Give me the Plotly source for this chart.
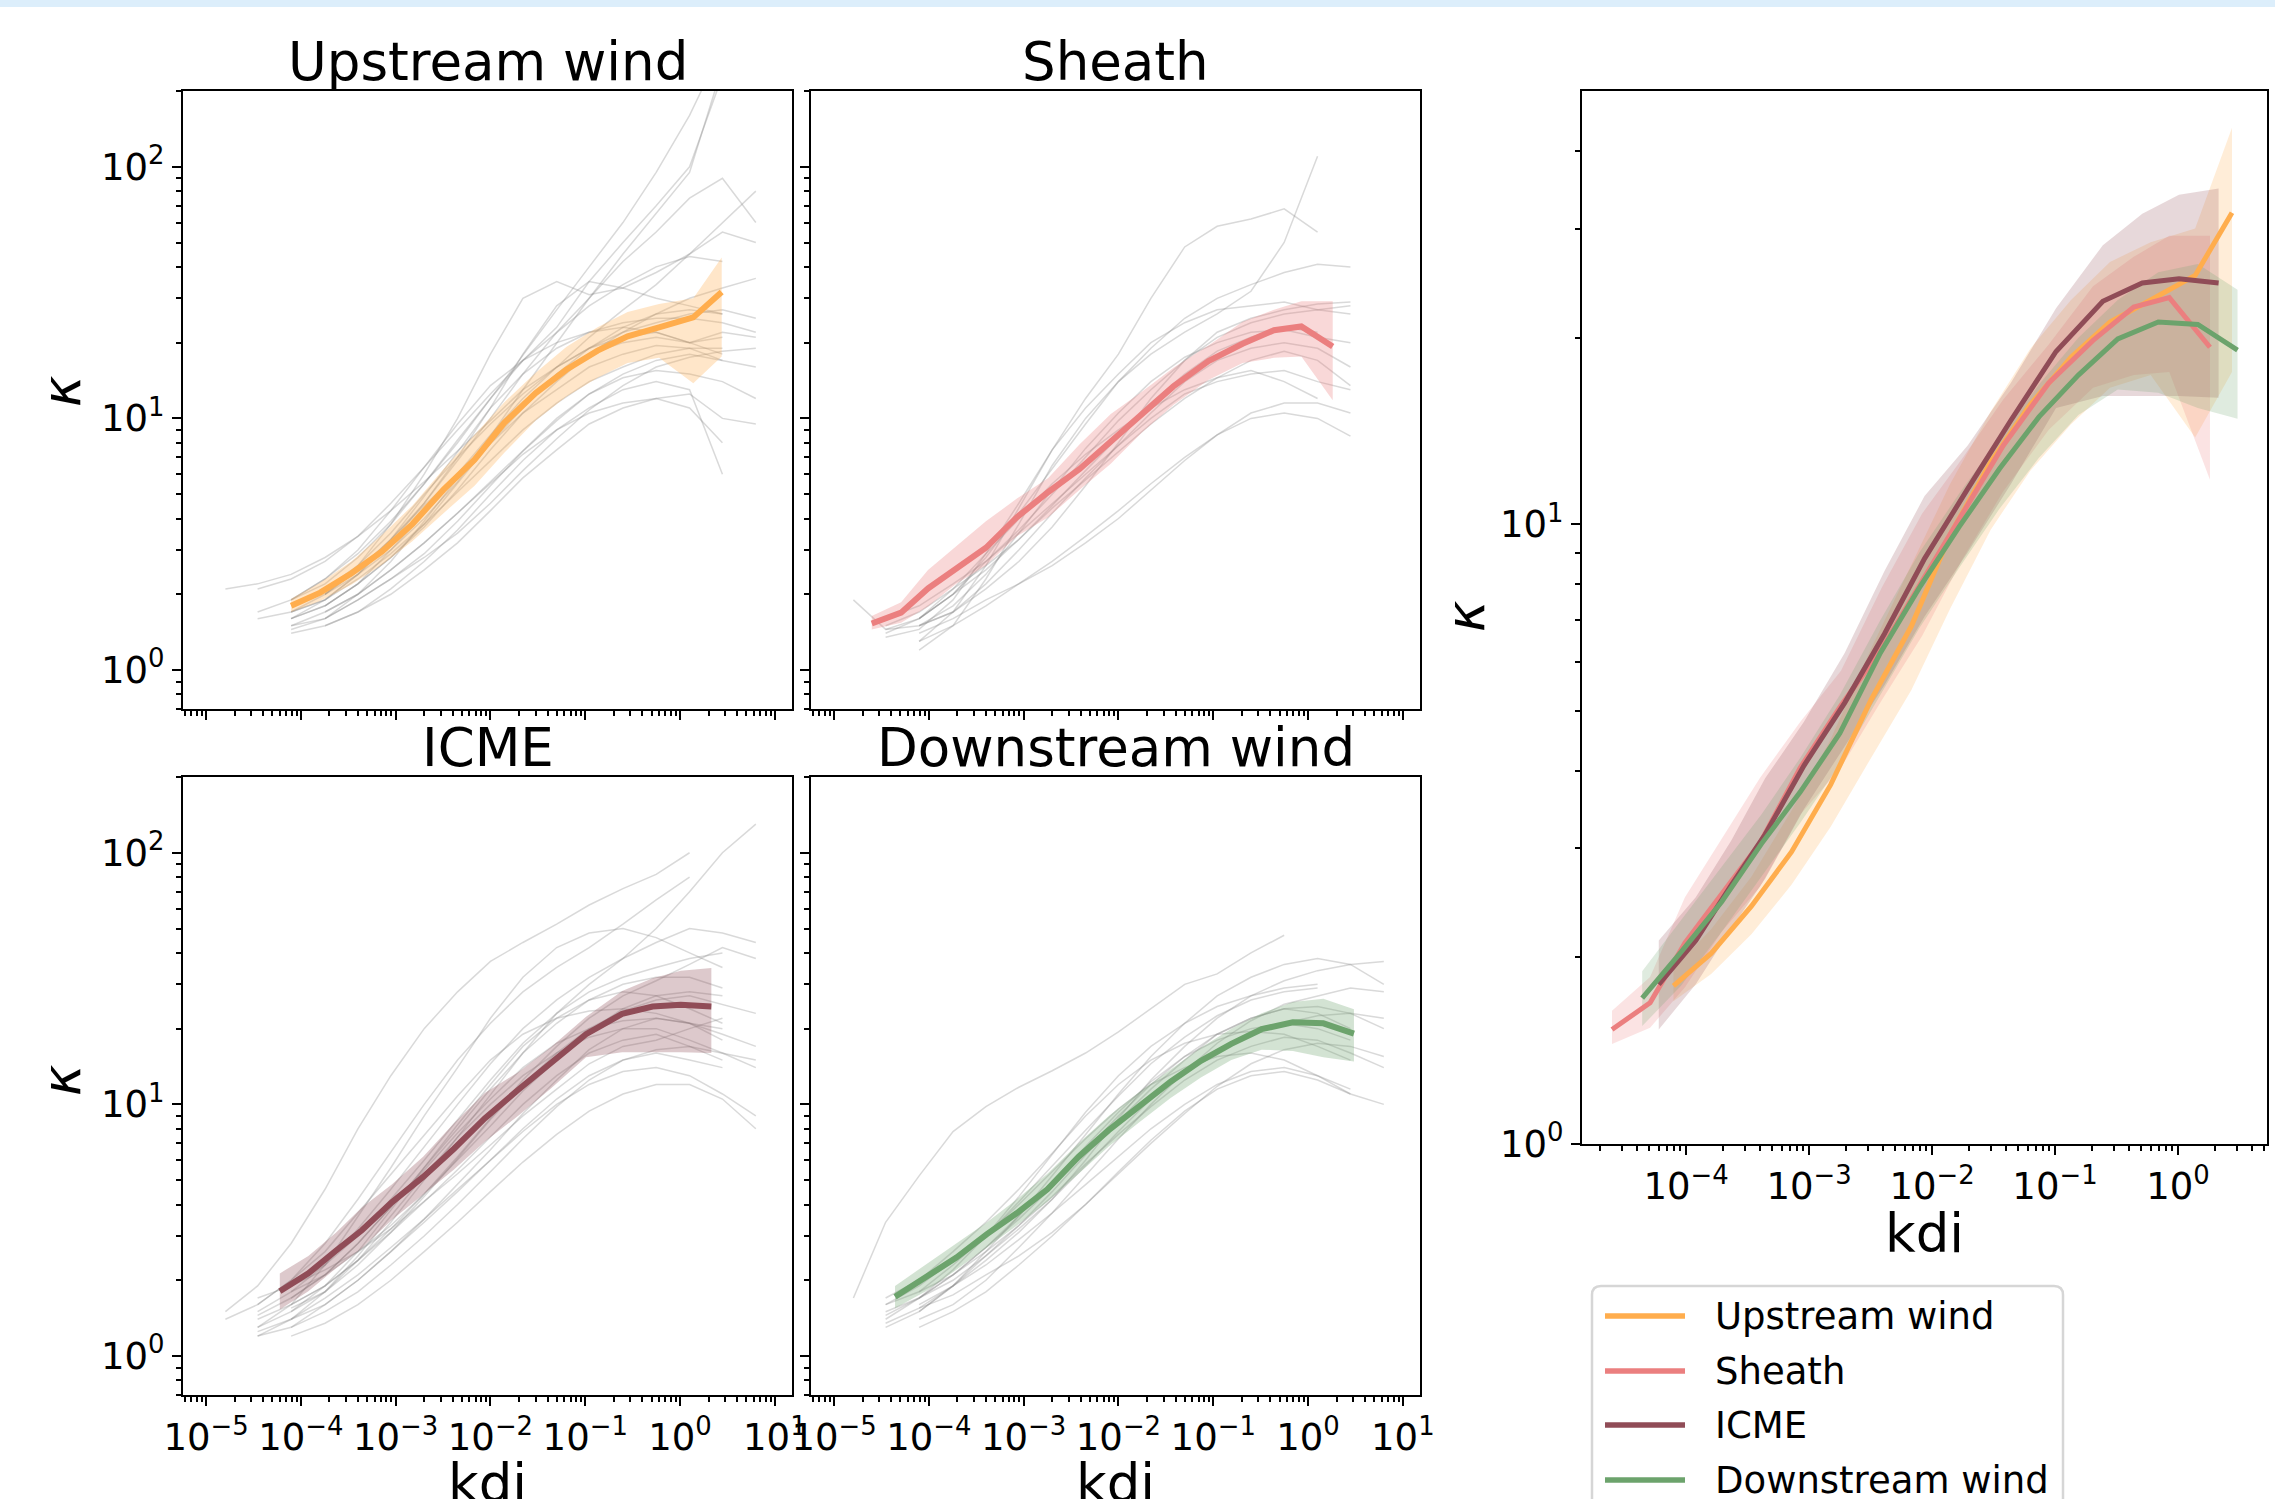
import math
import plotly.graph_objects as go

W, H = 2275, 1499

REGIONS = ["Upstream wind", "Sheath", "ICME", "Downstream wind"]
LINE_COLORS = [(255, 173, 77), (235, 127, 127), (144, 76, 87), (108, 163, 108)]

# ---- median curves and spread bands ----
UPSTREAM_KDI = [7.9e-5, 1.6e-4, 3.4e-4, 7.2e-4, 1.5e-3, 3.2e-3, 6.8e-3, 1.4e-2, 3.0e-2, 6.3e-2, 0.135, 0.28, 0.60, 1.38, 2.75]
UPSTREAM_KAPPA = [1.80, 2.03, 2.42, 2.96, 3.80, 5.21, 6.85, 9.6, 12.6, 15.6, 18.6, 21.2, 23.0, 25.2, 31.8]
UPSTREAM_LOW = [1.70, 1.88, 2.18, 2.62, 3.25, 4.2, 5.4, 7.3, 9.8, 12.2, 14.5, 16.6, 17.4, 13.8, 17.6]
UPSTREAM_HIGH = [1.92, 2.22, 2.70, 3.45, 4.5, 6.3, 8.6, 11.6, 15.2, 19.2, 23.0, 26.5, 28.5, 30.0, 43.6]

SHEATH_KDI = [2.5e-5, 5.1e-5, 9.8e-5, 1.95e-4, 4.0e-4, 8.5e-4, 1.82e-3, 3.9e-3, 8.3e-3, 1.78e-2, 3.8e-2, 8.9e-2, 0.204, 0.437, 0.85, 1.82]
SHEATH_KAPPA = [1.53, 1.69, 2.11, 2.53, 3.06, 4.05, 5.1, 6.3, 8.1, 10.4, 13.4, 16.9, 19.8, 22.4, 23.2, 19.3]
SHEATH_LOW = [1.45, 1.54, 1.79, 2.2, 2.6, 3.4, 4.05, 5.2, 6.6, 8.8, 11.3, 14.2, 16.6, 17.4, 17.6, 11.8]
SHEATH_HIGH = [1.64, 1.86, 2.5, 3.1, 3.9, 4.8, 5.8, 7.9, 10.4, 12.8, 15.9, 19.5, 24.2, 27.0, 29.2, 29.2]

ICME_KDI = [6.0e-5, 1.2e-4, 2.34e-4, 4.4e-4, 9.1e-4, 1.95e-3, 4.1e-3, 8.7e-3, 1.95e-2, 4.37e-2, 0.102, 0.245, 0.513, 1.02, 2.14]
ICME_KAPPA = [1.81, 2.13, 2.62, 3.16, 4.08, 5.15, 6.65, 8.8, 11.4, 14.7, 19.0, 22.9, 24.5, 24.9, 24.5]
ICME_LOW = [1.53, 1.81, 2.23, 2.68, 3.47, 4.38, 5.5, 7.1, 9.0, 11.6, 15.4, 16.1, 16.1, 16.1, 16.0]
ICME_HIGH = [2.13, 2.50, 3.09, 3.89, 4.80, 6.2, 8.4, 11.1, 13.4, 16.9, 22.3, 28.2, 31.7, 34.0, 34.8]

DOWNSTREAM_KDI = [4.4e-5, 9.1e-5, 1.95e-4, 4.1e-4, 8.5e-4, 1.78e-3, 3.8e-3, 7.9e-3, 1.66e-2, 3.55e-2, 7.41e-2, 0.155, 0.324, 0.692, 1.45, 3.05]
DOWNSTREAM_KAPPA = [1.72, 2.04, 2.46, 3.05, 3.7, 4.6, 6.2, 7.9, 9.9, 12.3, 14.9, 17.4, 19.9, 21.2, 21.0, 19.1]
DOWNSTREAM_LOW = [1.55, 1.8, 2.2, 2.7, 3.3, 4.1, 5.3, 6.8, 8.5, 10.6, 12.8, 15.0, 16.5, 16.3, 15.4, 14.8]
DOWNSTREAM_HIGH = [1.9, 2.3, 2.8, 3.4, 4.2, 5.3, 7.0, 9.0, 11.2, 13.8, 16.8, 20.0, 23.0, 25.5, 26.3, 23.9]

# ---- individual events (thin grey lines), on a common kdi grid ----
EVENT_KDI = [1.6e-5, 3.5e-5, 7.9e-5, 1.8e-4, 4.0e-4, 8.9e-4, 2.0e-3, 4.5e-3, 1.0e-2, 2.2e-2, 5.0e-2, 0.11, 0.25, 0.56, 1.26, 2.8, 6.3]

# (index of first grid point, kappa values)
UPSTREAM_EVENTS = [
    (1, [2.1, 2.3, 2.7, 3.4, 4.6, 6.4, 9.0, 12.5, 17, 22, 28, 34, 40, 44, 42]),
    (2, [1.6, 1.8, 2.2, 2.8, 3.8, 5.5, 8.0, 11, 15, 19, 23, 26, 27, 26]),
    (2, [1.5, 1.6, 1.9, 2.3, 2.9, 3.9, 5.4, 7.4, 9.8, 12.5, 15, 17, 18, 17, 16]),
    (2, [1.9, 2.2, 2.8, 3.8, 5.5, 8.2, 12, 17, 23, 35, 50, 70, 100, 230]),
    (3, [1.7, 2.0, 2.5, 3.2, 4.2, 5.6, 7.5, 10, 12.5, 14.5, 15.5, 15, 14, 12]),
    (2, [1.7, 1.9, 2.4, 3.2, 4.6, 7.0, 11, 18, 28, 35, 33, 30, 28, 26]),
    (2, [1.4, 1.5, 1.7, 2.0, 2.5, 3.2, 4.3, 5.8, 7.5, 9.5, 11, 12, 12.5, 10, 9.5]),
    (3, [2.0, 2.4, 3.0, 4.0, 5.6, 8.5, 13, 20, 30, 45, 65, 95, 250]),
    (2, [1.8, 2.1, 2.6, 3.5, 5.0, 7.0, 9.5, 12.5, 16, 19, 22, 24, 26, 27, 25]),
    (1, [1.6, 1.7, 1.9, 2.3, 2.9, 3.8, 5.1, 6.8, 9.0, 11.5, 14, 16, 18, 19, 19]),
    (2, [1.6, 1.8, 2.2, 3.0, 4.2, 6.0, 8.6, 12, 16, 21, 27, 34, 45, 60, 80]),
    (3, [1.5, 1.7, 2.1, 2.7, 3.6, 5.0, 6.8, 9.0, 11, 13, 14, 13, 6]),
    (2, [1.9, 2.3, 3.0, 4.3, 6.4, 9.5, 13.5, 17, 20, 22, 23, 22, 20, 21]),
    (2, [1.6, 1.9, 2.4, 3.3, 4.9, 7.4, 11, 15, 19, 22, 24, 25, 25, 24, 22]),
    (3, [1.8, 2.2, 2.8, 3.7, 5.2, 7.5, 10.5, 14, 18, 22, 26, 30, 33, 36]),
    (2, [1.7, 2.0, 2.5, 3.3, 4.5, 6.0, 8.0, 10.5, 13, 16, 18, 19.5, 19, 17]),
    (2, [1.5, 1.7, 2.0, 2.5, 3.2, 4.2, 5.5, 7.2, 9.0, 10.5, 11.5, 12, 11, 8]),
    (3, [2.0, 2.5, 3.3, 4.6, 6.8, 10, 15, 22, 30, 42, 55, 75, 90, 60]),
    (3, [2.0, 2.6, 3.8, 6.0, 10, 18, 30, 35, 31, 33, 38, 45, 55, 50]),
    (1, [1.7, 1.9, 2.3, 2.9, 3.9, 5.5, 8.0, 12, 18, 27, 40, 60, 95, 160, 300]),
    (0, [2.1, 2.2, 2.4, 2.8, 3.4, 4.3, 5.6, 7.4, 9.8, 13, 16, 19, 21, 22, 20, 18]),
    (2, [1.45, 1.6, 2.0, 2.7, 3.9, 5.8, 8.4, 11.6, 15, 18, 20, 21, 20, 22, 21]),
    (3, [1.6, 1.9, 2.3, 2.8, 3.5, 4.6, 6.2, 8.3, 10.8, 13.5, 16, 17.5, 18.5, 19]),
]

SHEATH_EVENTS = [
    (1, [1.45, 1.5, 1.7, 2.2, 3.0, 4.2, 5.8, 7.8, 10.5, 14, 17, 19, 20, 19, 16]),
    (1, [1.35, 1.45, 1.9, 2.9, 4.6, 7.5, 11, 15, 20, 24, 27, 28, 29, 27, 26]),
    (2, [1.3, 1.7, 2.6, 4.4, 7.5, 12, 18, 30, 48, 58, 62, 68, 55]),
    (1, [1.5, 1.7, 2.1, 2.6, 3.3, 4.4, 5.7, 7.4, 9.5, 12, 14.5, 17, 18.5, 17, 13.5]),
    (2, [1.2, 1.5, 2.3, 3.8, 6.5, 10, 14, 18, 22, 26, 32, 50, 110]),
    (1, [1.6, 1.8, 2.2, 2.7, 3.5, 4.6, 6.0, 7.8, 10, 12.5, 14, 15, 15.5, 14, 13]),
    (2, [1.4, 1.6, 1.9, 2.2, 2.6, 3.2, 4.0, 5.2, 6.8, 8.6, 10.5, 11.5, 11.5, 10.5]),
    (2, [1.6, 2.0, 2.7, 3.6, 5.0, 7.0, 9.8, 13, 17, 21, 24, 26, 27, 28]),
    (1, [1.4, 1.6, 2.0, 2.5, 3.3, 4.5, 6.2, 8.5, 11.5, 15, 18.5, 21, 23, 22]),
    (2, [1.5, 1.8, 2.4, 3.5, 5.2, 7.6, 10.5, 14, 17.5, 20, 22, 22.5, 21, 20]),
    (2, [1.5, 1.7, 2.1, 2.7, 3.7, 5.4, 8.0, 12, 17, 22, 25, 27, 28.5, 29]),
    (0, [1.9, 1.45, 1.6, 2.1, 2.9, 4.0, 5.5, 7.2, 9.0, 11, 13, 14.5, 15.5, 14, 12]),
    (2, [1.6, 2.0, 2.8, 4.2, 6.3, 9.5, 14, 19, 25, 30, 34, 38, 41, 40]),
    (2, [1.3, 1.5, 1.8, 2.2, 2.7, 3.4, 4.3, 5.5, 7.0, 8.6, 10, 10.5, 10, 8.5]),
]

ICME_EVENTS = [
    (1, [1.3, 1.6, 2.3, 3.6, 5.6, 9.0, 14, 22, 32, 42, 48, 50, 46, 40, 35]),
    (1, [1.2, 1.4, 1.8, 2.5, 3.6, 5.2, 7.4, 10, 13, 16, 18.5, 20, 20, 18, 16, 14]),
    (0, [1.5, 1.9, 2.8, 4.6, 8.0, 13, 20, 28, 37, 44, 52, 62, 72, 82, 100]),
    (1, [1.4, 1.6, 1.9, 2.4, 3.1, 4.1, 5.5, 7.4, 10, 13, 16, 18, 19, 17, 15]),
    (2, [1.5, 1.8, 2.4, 3.4, 5.0, 7.4, 11, 16, 23, 30, 38, 50, 70, 100, 130]),
    (1, [1.25, 1.4, 1.7, 2.1, 2.7, 3.5, 4.6, 6.0, 7.8, 10, 12, 13.5, 14, 13, 11, 9]),
    (2, [1.7, 2.1, 2.8, 3.9, 5.6, 8.0, 11.5, 16, 21, 26, 30, 32, 32, 29]),
    (1, [1.3, 1.5, 1.9, 2.6, 3.8, 5.6, 8.3, 12, 17, 22, 26, 28, 27, 24, 21]),
    (2, [1.6, 1.9, 2.4, 3.2, 4.4, 6.2, 8.8, 12.5, 17, 22, 27, 31, 36, 42, 38]),
    (1, [1.2, 1.3, 1.6, 2.0, 2.6, 3.4, 4.5, 6.0, 8.0, 10.5, 13, 15, 16, 15, 14]),
    (2, [1.9, 2.3, 3.0, 4.2, 6.0, 8.7, 12.5, 17.5, 23, 28, 32, 35, 38, 40]),
    (1, [1.45, 1.7, 2.1, 2.8, 3.9, 5.5, 7.7, 10.5, 14, 17.5, 20, 21.5, 22, 21, 19, 17]),
    (2, [1.4, 1.6, 2.0, 2.6, 3.5, 4.8, 6.6, 9.2, 12.5, 16.5, 20, 22, 21, 18]),
    (1, [1.5, 1.8, 2.3, 3.2, 4.6, 6.8, 10, 14.5, 20, 26, 32, 38, 44, 50, 48, 44]),
    (2, [1.8, 2.1, 2.6, 3.3, 4.4, 6.0, 8.2, 11.3, 15, 19.5, 24, 27, 28, 27]),
    (0, [1.4, 1.6, 2.0, 2.8, 4.2, 6.5, 10, 15, 21, 28, 35, 42, 52, 65, 80]),
    (2, [1.3, 1.5, 1.8, 2.3, 3.0, 4.0, 5.4, 7.3, 9.8, 12.5, 15, 16.5, 17, 16, 15]),
    (1, [1.6, 2.0, 2.6, 3.7, 5.3, 7.6, 10.8, 15, 19, 22, 23.5, 24, 23, 21, 20]),
    (2, [1.2, 1.35, 1.6, 2.0, 2.6, 3.4, 4.5, 5.9, 7.6, 9.4, 11, 12, 12, 10.5, 8.0]),
    (1, [1.7, 1.9, 2.2, 2.6, 3.2, 4.1, 5.3, 6.9, 9.0, 11.5, 14.5, 17, 18, 20, 22]),
    (2, [1.55, 1.8, 2.3, 3.1, 4.3, 6.1, 8.7, 12, 16, 20, 23.5, 26, 27, 25, 23]),
]

DOWNSTREAM_EVENTS = [
    (0, [1.7, 3.4, 5.2, 7.8, 9.8, 11.7, 13.6, 16, 19.4, 24, 30, 33, 40, 47]),
    (1, [1.5, 1.7, 2.1, 2.6, 3.3, 4.3, 5.8, 7.6, 9.8, 12.5, 15, 17, 18.5, 18, 16, 14]),
    (1, [1.3, 1.5, 1.9, 2.5, 3.3, 4.5, 6.3, 8.6, 11.5, 15, 19, 22, 24, 23, 20]),
    (2, [1.6, 1.9, 2.4, 3.1, 4.2, 6.0, 8.8, 12.5, 17, 22, 27, 31, 34, 36, 37]),
    (1, [1.35, 1.55, 1.9, 2.3, 2.9, 3.7, 4.8, 6.2, 8.0, 10, 12, 13.5, 14, 13, 11]),
    (2, [1.5, 1.9, 2.6, 3.6, 5.2, 7.6, 11, 15.5, 21, 27, 32, 36, 38, 36, 30]),
    (1, [1.45, 1.7, 2.1, 2.7, 3.6, 4.9, 6.8, 9.3, 12.3, 15.5, 18, 20, 21, 20, 18]),
    (2, [1.7, 2.0, 2.5, 3.2, 4.2, 5.7, 7.8, 10.5, 13.5, 16.5, 19, 21, 22.5, 23, 22]),
    (1, [1.6, 1.9, 2.4, 3.0, 4.0, 5.4, 7.3, 9.6, 12, 14, 15.5, 16, 15, 13, 11.5]),
    (2, [1.4, 1.6, 2.0, 2.7, 3.7, 5.2, 7.3, 10, 13.5, 17.5, 21.5, 25, 27, 29, 28]),
    (1, [1.7, 2.0, 2.6, 3.4, 4.6, 6.4, 9.0, 12, 15, 17.5, 19, 19.5, 19, 17, 15]),
    (2, [1.55, 1.75, 2.1, 2.5, 3.1, 4.0, 5.3, 7.0, 9.2, 11.8, 14.5, 16.5, 17.5, 17, 15.5]),
    (1, [1.4, 1.7, 2.2, 3.0, 4.3, 6.3, 9.3, 13, 17, 21, 24.5, 27, 29, 30]),
    (2, [1.8, 2.1, 2.7, 3.5, 4.7, 6.5, 9.0, 12, 15.5, 19, 22, 24, 24.5, 23, 20]),
    (2, [1.3, 1.5, 1.8, 2.3, 3.0, 4.0, 5.4, 7.2, 9.4, 11.5, 13, 13.5, 12.5, 11, 10]),
    (1, [1.6, 1.8, 2.3, 3.0, 4.1, 5.7, 7.9, 10.8, 14.5, 18.5, 22.5, 26, 28, 29]),
]

KAPPA_REF = 3.0
KDI_REF = 1.0

SMALL_XTICKS = [1e-5, 1e-4, 1e-3, 1e-2, 1e-1, 1e0, 1e1]
SMALL_XTICKTEXT = ["10<sup>−5</sup>", "10<sup>−4</sup>", "10<sup>−3</sup>", "10<sup>−2</sup>",
                   "10<sup>−1</sup>", "10<sup>0</sup>", "10<sup>1</sup>"]
SMALL_YTICKS = [1, 10, 100]
SMALL_YTICKTEXT = ["10<sup>0</sup>", "10<sup>1</sup>", "10<sup>2</sup>"]
BIG_XTICKS = [1e-4, 1e-3, 1e-2, 1e-1, 1e0]
BIG_XTICKTEXT = ["10<sup>−4</sup>", "10<sup>−3</sup>", "10<sup>−2</sup>", "10<sup>−1</sup>", "10<sup>0</sup>"]
BIG_YTICKS = [1, 10]
BIG_YTICKTEXT = ["10<sup>0</sup>", "10<sup>1</sup>"]

# ------------------------------------------------------------------
FONT = "DejaVu Sans"
TICK_FS = 37
TITLE_FS = 53

MEDIANS = [
    (UPSTREAM_KDI, UPSTREAM_KAPPA, UPSTREAM_LOW, UPSTREAM_HIGH, UPSTREAM_EVENTS),
    (SHEATH_KDI, SHEATH_KAPPA, SHEATH_LOW, SHEATH_HIGH, SHEATH_EVENTS),
    (ICME_KDI, ICME_KAPPA, ICME_LOW, ICME_HIGH, ICME_EVENTS),
    (DOWNSTREAM_KDI, DOWNSTREAM_KAPPA, DOWNSTREAM_LOW, DOWNSTREAM_HIGH, DOWNSTREAM_EVENTS),
]


def rgba(c, a):
    return "rgba(%d,%d,%d,%.3f)" % (c[0], c[1], c[2], a)


def xdom(p0, p1):
    return [p0 / W, p1 / W]


def ydom(top, bottom):
    return [1 - bottom / H, 1 - top / H]


def minor_vals(lo_exp, hi_exp):
    vals = []
    for e in range(lo_exp, hi_exp + 1):
        for m in range(2, 10):
            vals.append(m * 10.0 ** e)
    return vals


def ax_id(n):
    return "" if n == 1 else str(n)


# panel pixel boxes: (left, right, top, bottom)
PANELS = [(183, 792, 91, 709), (811, 1420, 91, 709), (183, 792, 777, 1395), (811, 1420, 777, 1395)]
BIG = (1582, 2267, 91, 1144)

fig = go.Figure()

# small panels
for i, (kdi, kap, lo, hi, events) in enumerate(MEDIANS):
    xa, ya = "x" + ax_id(i + 1), "y" + ax_id(i + 1)
    for start, vals in events:
        fig.add_trace(go.Scatter(
            x=EVENT_KDI[start:start + len(vals)], y=vals, mode="lines",
            line=dict(color="rgba(128,128,128,0.3)", width=1.5),
            hoverinfo="skip", showlegend=False, xaxis=xa, yaxis=ya))
    fig.add_trace(go.Scatter(
        x=kdi + kdi[::-1], y=hi + lo[::-1], mode="lines", fill="toself",
        fillcolor=rgba(LINE_COLORS[i], 0.3), line=dict(width=0, color="rgba(0,0,0,0)"),
        hoverinfo="skip", showlegend=False, xaxis=xa, yaxis=ya))
    fig.add_trace(go.Scatter(
        x=kdi, y=kap, mode="lines", line=dict(color=rgba(LINE_COLORS[i], 1), width=6),
        name=REGIONS[i], showlegend=False, xaxis=xa, yaxis=ya))

# big comparison panel
for i, (kdi, kap, lo, hi, events) in enumerate(MEDIANS):
    fig.add_trace(go.Scatter(
        x=kdi + kdi[::-1], y=hi + lo[::-1], mode="lines", fill="toself",
        fillcolor=rgba(LINE_COLORS[i], 0.22), line=dict(width=0, color="rgba(0,0,0,0)"),
        hoverinfo="skip", showlegend=False, xaxis="x5", yaxis="y5"))
for i, (kdi, kap, lo, hi, events) in enumerate(MEDIANS):
    fig.add_trace(go.Scatter(
        x=kdi, y=kap, mode="lines", line=dict(color=rgba(LINE_COLORS[i], 1), width=5),
        name=REGIONS[i], showlegend=False, xaxis="x5", yaxis="y5"))

common = dict(type="log", showgrid=False, zeroline=False, showline=True, linecolor="black",
              linewidth=2, mirror=True, ticks="outside", ticklen=9, tickwidth=2, tickcolor="black",
              tickfont=dict(size=TICK_FS, color="black", family=FONT), tickmode="array",
              automargin=False)

layout_axes = {}
for i, (l, r, t, b) in enumerate(PANELS):
    n = i + 1
    bottom_row = i >= 2
    left_col = i % 2 == 0
    layout_axes["xaxis" + ax_id(n)] = dict(
        common, domain=xdom(l, r), anchor="y" + ax_id(n), range=[-5.243, 1.181],
        tickvals=SMALL_XTICKS, ticktext=SMALL_XTICKTEXT, showticklabels=bottom_row,
        minor=dict(ticks="outside", ticklen=5, tickwidth=1.5, tickcolor="black", tickmode="array",
                   tickvals=minor_vals(-6, 1), showgrid=False))
    layout_axes["yaxis" + ax_id(n)] = dict(
        common, domain=ydom(t, b), anchor="x" + ax_id(n), range=[math.log10(0.7), math.log10(200)],
        tickvals=SMALL_YTICKS, ticktext=SMALL_YTICKTEXT, showticklabels=left_col,
        minor=dict(ticks="outside", ticklen=5, tickwidth=1.5, tickcolor="black", tickmode="array",
                   tickvals=[0.7, 0.8, 0.9] + minor_vals(0, 1) + [200], showgrid=False))

l, r, t, b = BIG
layout_axes["xaxis5"] = dict(
    common, domain=xdom(l, r), anchor="y5", range=[-4.846, 0.724],
    tickvals=BIG_XTICKS, ticktext=BIG_XTICKTEXT,
    minor=dict(ticks="outside", ticklen=5, tickwidth=1.5, tickcolor="black", tickmode="array",
               tickvals=minor_vals(-5, 0), showgrid=False))
layout_axes["yaxis5"] = dict(
    common, domain=ydom(t, b), anchor="x5", range=[0, math.log10(50)],
    tickvals=BIG_YTICKS, ticktext=BIG_YTICKTEXT,
    minor=dict(ticks="outside", ticklen=5, tickwidth=1.5, tickcolor="black", tickmode="array",
               tickvals=minor_vals(0, 0) + [20, 30, 40], showgrid=False))

shapes = [dict(type="rect", xref="paper", yref="paper", x0=0, x1=1, y0=1 - 7 / H, y1=1,
               fillcolor="#DCEEFB", line=dict(width=0), layer="below")]
for n in range(1, 6):
    xr, yr = "x" + ax_id(n), "y" + ax_id(n)
    shapes.append(dict(type="line", xref=xr + " domain", yref=yr, x0=0, x1=1,
                       y0=math.log10(KAPPA_REF), y1=math.log10(KAPPA_REF),
                       line=dict(color="black", width=2.5)))
    shapes.append(dict(type="line", xref=xr, yref=yr + " domain",
                       x0=math.log10(KDI_REF), x1=math.log10(KDI_REF), y0=0, y1=1,
                       line=dict(color="rgb(128,128,128)", width=3, dash="15px,7px")))

annotations = []
title_y = [61, 61, 747, 747]
for i, (l2, r2, t2, b2) in enumerate(PANELS):
    annotations.append(dict(text=REGIONS[i], xref="paper", yref="paper", x=(l2 + r2) / 2 / W,
                            y=1 - title_y[i] / H, xanchor="center", yanchor="middle", showarrow=False,
                            font=dict(size=TITLE_FS, family=FONT, color="black")))

for (px, py) in [(61, 392), (61, 1081), (1465, 617)]:
    annotations.append(dict(text="<i>κ</i>", xref="paper", yref="paper", x=px / W, y=1 - py / H,
                            xanchor="center", yanchor="middle", textangle=-90, showarrow=False,
                            font=dict(size=TITLE_FS, family=FONT, color="black")))
for (px, py) in [(487.5, 1483), (1115.5, 1483), (1924.5, 1233)]:
    annotations.append(dict(text="kdi", xref="paper", yref="paper", x=px / W, y=1 - py / H,
                            xanchor="center", yanchor="middle", showarrow=False,
                            font=dict(size=TITLE_FS, family=FONT, color="black")))

# legend (drawn manually to match matplotlib geometry)
lx0, lx1, ltop, lbot, rad = 1592, 2063, 1286, 1530, 9


def P(x, y):
    return "%.5f,%.5f" % (x / W, 1 - y / H)


path = ("M " + P(lx0, lbot) + " L " + P(lx0, ltop + rad) + " Q " + P(lx0, ltop) + " " + P(lx0 + rad, ltop) +
        " L " + P(lx1 - rad, ltop) + " Q " + P(lx1, ltop) + " " + P(lx1, ltop + rad) + " L " + P(lx1, lbot))
shapes.append(dict(type="path", xref="paper", yref="paper", path=path,
                   line=dict(color="#d6d6d6", width=2.5), fillcolor="rgba(255,255,255,0)"))
rows = [1316, 1371, 1425, 1480]
for i, ry in enumerate(rows):
    shapes.append(dict(type="line", xref="paper", yref="paper", x0=1605 / W, x1=1685 / W,
                       y0=1 - ry / H, y1=1 - ry / H, line=dict(color=rgba(LINE_COLORS[i], 1), width=5.5)))
    annotations.append(dict(text=REGIONS[i], xref="paper", yref="paper", x=1713 / W, y=1 - ry / H,
                            xanchor="left", yanchor="middle", showarrow=False,
                            font=dict(size=TICK_FS, family=FONT, color="black")))

fig.update_layout(width=W, height=H, margin=dict(l=0, r=0, t=0, b=0, autoexpand=False),
                  paper_bgcolor="white", plot_bgcolor="white", showlegend=False,
                  font=dict(family=FONT, color="black"), shapes=shapes, annotations=annotations,
                  **layout_axes)

fig.write_html("out.html", config={"displayModeBar": False},
               post_script="document.body.style.margin='0px';")
